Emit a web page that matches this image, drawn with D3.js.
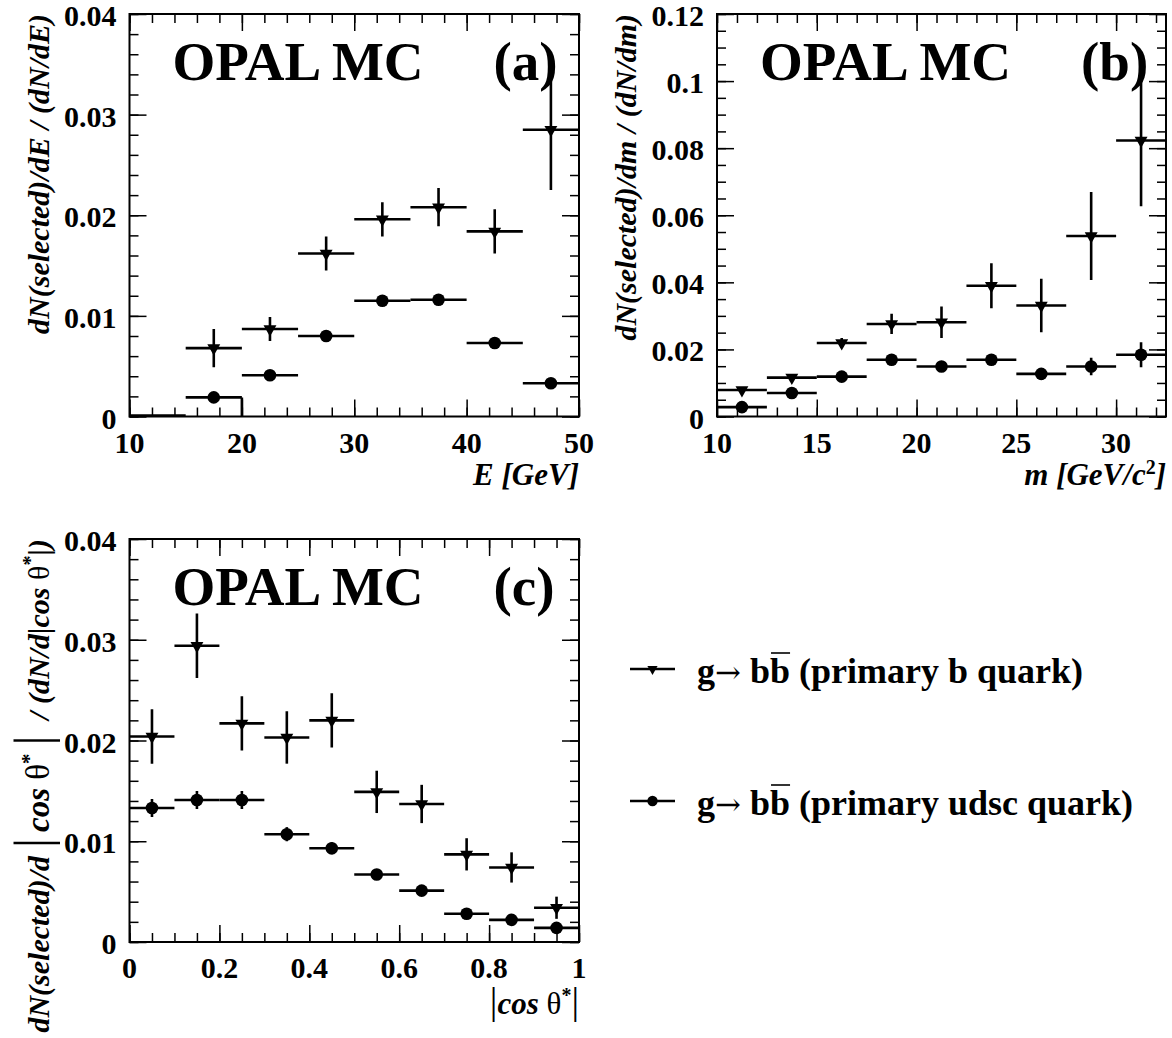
<!DOCTYPE html>
<html><head><meta charset="utf-8">
<script src="https://cdn.jsdelivr.net/npm/d3@7"></script>
<style>
body{margin:0;background:#fff}
svg{display:block}
text{font-family:"Liberation Serif","Times New Roman",serif;font-weight:bold;fill:#000}
</style>
</head><body>
<svg id="chart" width="1172" height="1038"></svg>
<script>
// ---------------- DATA ----------------
// (a) jet energy
const energyEdges = [15, 20, 25, 30, 35, 40, 45, 50];
const energyB     = [0.0068, 0.0087, 0.0162, 0.0196, 0.0208, 0.0184, 0.0285];
const energyBErr  = [0.0019, 0.0012, 0.0017, 0.0017, 0.0019, 0.0022, 0.0060];
const energyU     = [0.0019, 0.0041, 0.0080, 0.0115, 0.0116, 0.0073, 0.0033];
const energyUErr  = [0.0002, 0.0002, 0.0003, 0.0003, 0.0003, 0.0003, 0.0003];
const energyXTicks  = [10, 20, 30, 40, 50];
const energyXLabels = ["10", "20", "30", "40", "50"];
const energyYTicks  = [0, 0.01, 0.02, 0.03, 0.04];
const energyYLabels = ["0", "0.01", "0.02", "0.03", "0.04"];

// (b) jet mass
const massEdges = [10, 12.5, 15, 17.5, 20, 22.5, 25, 27.5, 30, 32.5];
const massB     = [0.0079, 0.0116, 0.0219, 0.0276, 0.0281, 0.0390, 0.0331, 0.0538, 0.0823];
const massBErr  = [0.0008, 0.0010, 0.0015, 0.0030, 0.0047, 0.0067, 0.0080, 0.0131, 0.0196];
const massU     = [0.0028, 0.0070, 0.0119, 0.0169, 0.0149, 0.0169, 0.0127, 0.0149, 0.0184];
const massUErr  = [0.0005, 0.0006, 0.0007, 0.0009, 0.0009, 0.0010, 0.0012, 0.0026, 0.0037];
const massXTicks  = [10, 15, 20, 25, 30];
const massXLabels = ["10", "15", "20", "25", "30"];
const massYTicks  = [0, 0.02, 0.04, 0.06, 0.08, 0.1, 0.12];
const massYLabels = ["0", "0.02", "0.04", "0.06", "0.08", "0.1", "0.12"];

// (c) |cos theta*|
const cosEdges = [0, 0.1, 0.2, 0.3, 0.4, 0.5, 0.6, 0.7, 0.8, 0.9, 1.0];
const cosB     = [0.0204, 0.0294, 0.0217, 0.0203, 0.0220, 0.0149, 0.0137, 0.0087, 0.0074, 0.0034];
const cosBErr  = [0.0027, 0.0032, 0.0027, 0.0026, 0.0027, 0.0021, 0.0019, 0.0016, 0.0015, 0.0011];
const cosU     = [0.0133, 0.0141, 0.0141, 0.0107, 0.0093, 0.0067, 0.0051, 0.0028, 0.0022, 0.0014];
const cosUErr  = [0.0009, 0.0009, 0.0009, 0.0007, 0.0006, 0.0004, 0.0004, 0.0003, 0.0003, 0.0002];
const cosXTicks  = [0, 0.2, 0.4, 0.6, 0.8, 1];
const cosXLabels = ["0", "0.2", "0.4", "0.6", "0.8", "1"];
const cosYTicks  = [0, 0.01, 0.02, 0.03, 0.04];
const cosYLabels = ["0", "0.01", "0.02", "0.03", "0.04"];

const legendLabels = ["(primary b quark)", "(primary udsc quark)"];
const panelTags = ["(a)", "(b)", "(c)"];

// ---------------- DRAWING ----------------
const svg = d3.select("#chart");
const LW = 2.6;

function addParts(t, parts) {
  parts.forEach(pt => {
    const s = t.append("tspan").text(pt.t);
    if (pt.up) s.style("font-style", "normal");
    if (pt.fs) s.style("font-size", pt.fs + "px");
    if (pt.fw) s.style("font-weight", pt.fw);
    if (pt.dy) s.attr("dy", pt.dy);
    if (pt.dx) s.attr("dx", pt.dx);
  });
}

function panel(p) {
  const x = d3.scaleLinear().domain(p.xDomain).range([p.L, p.R]);
  const y = d3.scaleLinear().domain(p.yDomain).range([p.B, p.T]);
  const g = svg.append("g");

  const sides = [
    [d3.axisBottom, x, `translate(0,${p.B})`, p.xMinor, p.xTicks],
    [d3.axisTop,    x, `translate(0,${p.T})`, p.xMinor, p.xTicks],
    [d3.axisLeft,   y, `translate(${p.L},0)`, p.yMinor, p.yTicks],
    [d3.axisRight,  y, `translate(${p.R},0)`, p.yMinor, p.yTicks]
  ];
  sides.forEach(([ax, s, tr, mi, ma]) => {
    g.append("g").attr("transform", tr)
      .call(ax(s).tickValues(mi).tickSize(-9).tickFormat(""))
      .call(a => a.select(".domain").remove());
    g.append("g").attr("transform", tr)
      .call(ax(s).tickValues(ma).tickSize(-17).tickFormat(""))
      .call(a => a.select(".domain").remove());
  });
  g.selectAll(".tick line").attr("stroke", "#000").attr("stroke-width", 1.5);

  // tick labels
  g.selectAll(".xl").data(p.xTicks).join("text")
    .attr("x", d => x(d)).attr("y", p.B + 36)
    .attr("text-anchor", "middle").style("font-size", "30px")
    .text((d, i) => p.xLabels[i]);
  g.selectAll(".yl").data(p.yTicks).join("text")
    .attr("x", p.L - 13).attr("y", d => y(d) + 12)
    .attr("text-anchor", "end").style("font-size", "30px")
    .text((d, i) => p.yLabels[i]);

  // data
  const clipId = "clip" + p.key;
  svg.append("clipPath").attr("id", clipId).append("rect")
    .attr("x", p.L).attr("y", p.T).attr("width", p.R - p.L).attr("height", p.B - p.T);
  const dg = g.append("g").attr("clip-path", `url(#${clipId})`);

  if (p.extra) p.extra(dg, x, y);

  [[p.u, p.uErr, "circle"], [p.b, p.bErr, "tri"]].forEach(([vals, errs, kind]) => {
    const rows = vals.map((v, i) => ({lo: p.edges[i], hi: p.edges[i + 1], v, e: errs[i]}));
    dg.selectAll(null).data(rows).join("line")
      .attr("x1", d => x(d.lo)).attr("x2", d => x(d.hi))
      .attr("y1", d => y(d.v)).attr("y2", d => y(d.v))
      .attr("stroke", "#000").attr("stroke-width", LW);
    dg.selectAll(null).data(rows).join("line")
      .attr("x1", d => x((d.lo + d.hi) / 2)).attr("x2", d => x((d.lo + d.hi) / 2))
      .attr("y1", d => y(d.v - d.e)).attr("y2", d => y(d.v + d.e))
      .attr("stroke", "#000").attr("stroke-width", LW);
    if (kind === "circle") {
      dg.selectAll(null).data(rows).join("circle")
        .attr("cx", d => x((d.lo + d.hi) / 2)).attr("cy", d => y(d.v)).attr("r", 6.3);
    } else {
      dg.selectAll(null).data(rows).join("path")
        .attr("d", d3.symbol(d3.symbolTriangle, 72))
        .attr("transform", d => `translate(${x((d.lo + d.hi) / 2)},${y(d.v)}) rotate(180)`);
    }
  });

  // frame
  g.append("rect").attr("x", p.L).attr("y", p.T)
    .attr("width", p.R - p.L).attr("height", p.B - p.T)
    .attr("fill", "none").attr("stroke", "#000").attr("stroke-width", 2);

  // big labels
  g.append("text").attr("x", p.L + 43).attr("y", p.T + 66)
    .style("font-size", "55px").text("OPAL MC");
  g.append("text").attr("x", p.L + 364).attr("y", p.T + 66)
    .style("font-size", "55px").text(p.tag);

  // axis titles
  const xt = g.append("text").attr("x", p.R).attr("y", p.B + p.xTitleDy)
    .attr("text-anchor", "end").style("font-size", "31px").style("font-style", "italic");
  p.xTitle(xt);
  const yt = g.append("text").attr("text-anchor", "end")
    .attr("transform", `translate(${p.L - 81},${p.T}) rotate(-90)`)
    .style("font-size", "30px").style("font-style", "italic");
  p.yTitle(yt);
}

const A = {L: 129.5, R: 579, T: 14, B: 416.5};
const Bp = {L: 717, R: 1166, T: 14, B: 416.5};
const C = {L: 129.5, R: 579, T: 539, B: 942};

panel(Object.assign({}, A, {
  key: "a", tag: panelTags[0], xDomain: [10, 50], yDomain: [0, 0.04],
  xTicks: energyXTicks, xLabels: energyXLabels, xMinor: d3.range(10, 50.01, 2),
  yTicks: energyYTicks, yLabels: energyYLabels, yMinor: d3.range(0, 0.0401, 0.002),
  edges: energyEdges, b: energyB, bErr: energyBErr, u: energyU, uErr: energyUErr,
  extra: (dg, x, y) => {
    dg.append("path")
      .attr("d", `M${x(10)},${y(0) - 1}H${x(energyEdges[0])}M${x(energyEdges[1])},${y(energyU[0])}V${y(0)}`)
      .attr("fill", "none").attr("stroke", "#000").attr("stroke-width", LW);
  },
  xTitleDy: 68,
  xTitle: t => addParts(t, [{t: "E [GeV]"}]),
  yTitle: t => addParts(t, [{t: "dN(selected)/dE / (dN/dE)"}])
}));

panel(Object.assign({}, Bp, {
  key: "b", tag: panelTags[1], xDomain: [10, 32.5], yDomain: [0, 0.12],
  xTicks: massXTicks, xLabels: massXLabels, xMinor: d3.range(10, 32.51, 1),
  yTicks: massYTicks, yLabels: massYLabels, yMinor: d3.range(0, 0.1201, 0.005),
  edges: massEdges, b: massB, bErr: massBErr, u: massU, uErr: massUErr,
  xTitleDy: 68,
  xTitle: t => addParts(t, [{t: "m [GeV/c"}, {t: "2", up: true, fs: 20, dy: -11}, {t: "]", dy: 11}]),
  yTitle: t => addParts(t, [{t: "dN(selected)/dm / (dN/dm)"}])
}));

panel(Object.assign({}, C, {
  key: "c", tag: panelTags[2], xDomain: [0, 1], yDomain: [0, 0.04],
  xTicks: cosXTicks, xLabels: cosXLabels, xMinor: d3.range(0, 1.001, 0.05),
  yTicks: cosYTicks, yLabels: cosYLabels, yMinor: d3.range(0, 0.0401, 0.002),
  edges: cosEdges, b: cosB, bErr: cosBErr, u: cosU, uErr: cosUErr,
  xTitleDy: 72,
  xTitle: t => addParts(t, [
    {t: "|", up: true, fs: 38, fw: "normal"}, {t: "cos "}, {t: "θ", up: true, fw: "normal"},
    {t: "*", up: true, fs: 20, dy: -12}, {t: "|", up: true, fs: 38, fw: "normal", dy: 12}]),
  yTitle: t => addParts(t, [
    {t: "dN(selected)/d"}, {t: "|", up: true, fs: 50, fw: "normal", dx: 8},
    {t: "cos ", fs: 33, dx: 6}, {t: "θ", up: true, fw: "normal", fs: 33},
    {t: "*", up: true, fs: 21, dy: -13}, {t: "|", up: true, fs: 50, fw: "normal", dy: 13, dx: 8},
    {t: " / (dN/d|cos ", dx: 8}, {t: "θ", up: true, fw: "normal"}, {t: "*", up: true, fs: 20, dy: -12}, {t: "|)", dy: 12}])
}));

// ---------------- LEGEND ----------------
const legRows = [
  {y: 669, kind: "tri", label: legendLabels[0]},
  {y: 801, kind: "circle", label: legendLabels[1]}
];
legRows.forEach(r => {
  const lg = svg.append("g");
  lg.append("line").attr("x1", 630).attr("x2", 675).attr("y1", r.y).attr("y2", r.y)
    .attr("stroke", "#000").attr("stroke-width", LW);
  if (r.kind === "circle") {
    lg.append("circle").attr("cx", 652.5).attr("cy", r.y).attr("r", 5.2);
  } else {
    lg.append("path").attr("d", d3.symbol(d3.symbolTriangle, 45))
      .attr("transform", `translate(652.5,${r.y}) rotate(180)`);
  }
  const t = lg.append("text").attr("x", 697).attr("y", r.y + 14).style("font-size", "36px");
  t.append("tspan").text("g");
  t.append("tspan").text("→").style("font-family", "DejaVu Serif").style("font-weight", "normal")
    .style("font-size", "31px");
  t.append("tspan").text(" b");
  const ob = t.append("tspan").text("b");
  t.append("tspan").text(" " + r.label);
  const bb = ob.node().getBBox();
  lg.append("line").attr("x1", bb.x + 1).attr("x2", bb.x + bb.width)
    .attr("y1", bb.y + 2).attr("y2", bb.y + 2)
    .attr("stroke", "#000").attr("stroke-width", 1.6);
});
</script>
</body></html>
